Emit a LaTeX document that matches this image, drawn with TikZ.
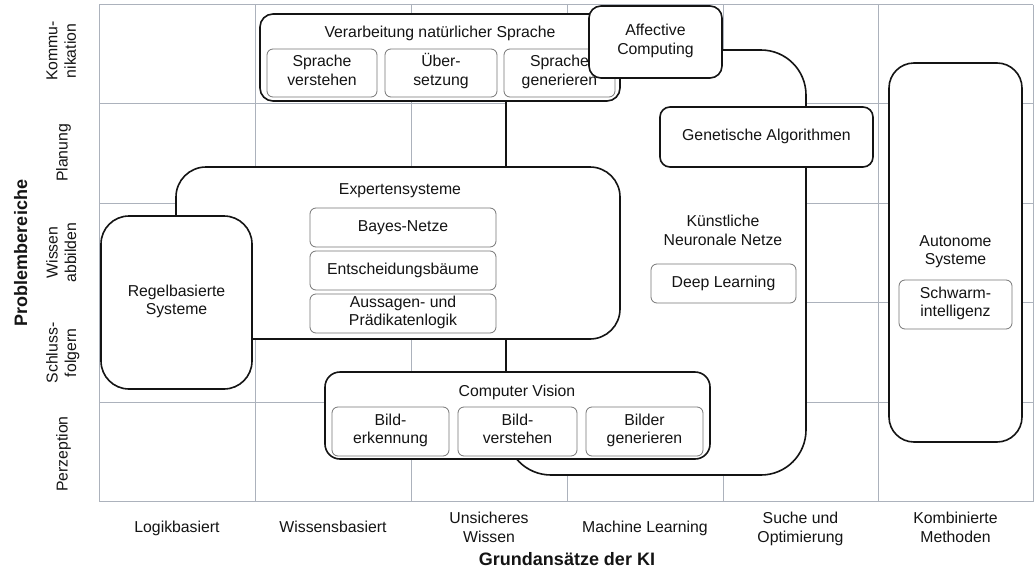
\documentclass[tikz,border=0pt]{standalone}
\usepackage{fontspec}
\setmainfont{Liberation Sans}
\definecolor{gridc}{RGB}{172,178,188}
\definecolor{subc}{RGB}{118,118,118}
\definecolor{ink}{RGB}{20,20,20}
\begin{document}
\begin{tikzpicture}[x=1pt,y=-1pt,
  every node/.style={font=\fontsize{15.8}{18.5}\selectfont, text=ink, inner sep=1pt, align=center,
    execute at begin node={\strut}, execute at end node={\strut}},
  gridline/.style={draw=gridc, line width=0.9pt},
  bigbox/.style={draw=ink, fill=white, line width=1.6pt, rectangle, rounded corners=#1},
  subbox/.style={draw=subc, fill=white, line width=0.8pt, rectangle, rounded corners=6pt},
  rowlab/.style={rotate=90},
  axislab/.style={font=\fontsize{18}{21}\selectfont\bfseries}
]
\useasboundingbox (0,0) rectangle (1034,573);
\fill[white] (0,0) rectangle (1034,573);

% grid
\foreach \gx in {99,255,411,567,723,878,1033}
  \draw[gridline] (\gx,4.5) -- (\gx,501.5);
\foreach \gy in {4.5,103.5,203,302.5,402,501.5}
  \draw[gridline] (99,\gy) -- (1033,\gy);

% Kuenstliche Neuronale Netze (large shape)
\node[bigbox=45pt, minimum width=300pt, minimum height=425pt] (knn) at (656,262.5) {};
\node (knnlab) at (723,233) {Künstliche\\Neuronale Netze};
\node[subbox, minimum width=145pt, minimum height=39pt] (deep) at (723.5,283.5) {Deep Learning};

% Genetische Algorithmen
\node[bigbox=10pt, minimum width=213pt, minimum height=60pt] (gen) at (766.5,137) {Genetische Algorithmen};

% Expertensysteme
\node[bigbox=30pt, minimum width=444pt, minimum height=172pt] (exp) at (398,253) {};
\node (explab) at (400,191) {Expertensysteme};
\node[subbox, minimum width=186pt, minimum height=39pt] (bayes) at (403,227.5) {Bayes-Netze};
\node[subbox, minimum width=186pt, minimum height=39pt] (ents) at (403,270.5) {Entscheidungsbäume};
\node[subbox, minimum width=186pt, minimum height=39pt] (aussa) at (403,313.5) {Aussagen- und\\Prädikatenlogik};

% Regelbasierte Systeme
\node[bigbox=28pt, minimum width=151pt, minimum height=173pt] (regel) at (176.5,302.5) {Regelbasierte\\Systeme};

% Verarbeitung natuerlicher Sprache
\node[bigbox=13pt, minimum width=360pt, minimum height=87pt] (nlp) at (440,57.5) {};
\node (nlplab) at (440,34) {Verarbeitung natürlicher Sprache};
\node[subbox, minimum width=110pt, minimum height=48pt] (sv) at (322,73) {Sprache\\verstehen};
\node[subbox, minimum width=112pt, minimum height=48pt] (ueb) at (441,73) {\smash{Ü}ber-\\setzung};
\node[subbox, minimum width=111pt, minimum height=48pt] (sg) at (559.5,73) {Sprache\\generieren};

% Affective Computing
\node[bigbox=12pt, minimum width=133pt, minimum height=72pt] (aff) at (655.5,42) {Affective\\Computing};

% Computer Vision
\node[bigbox=15pt, minimum width=385pt, minimum height=87pt] (cv) at (517.5,415.5) {};
\node (cvlab) at (517,393) {Computer Vision};
\node[subbox, minimum width=117pt, minimum height=49pt] (be) at (390.5,431.5) {Bild-\\erkennung};
\node[subbox, minimum width=119pt, minimum height=49pt] (bv) at (517.5,431.5) {Bild-\\verstehen};
\node[subbox, minimum width=117pt, minimum height=49pt] (bg) at (644.5,431.5) {Bilder\\generieren};

% Autonome Systeme
\node[bigbox=25pt, minimum width=133pt, minimum height=379pt] (auto) at (955.5,252.5) {};
\node (autolab) at (955.5,253) {Autonome\\Systeme};
\node[subbox, minimum width=113pt, minimum height=49pt] (schw) at (955.5,304.5) {Schwarm-\\intelligenz};

% row labels
\node[rowlab] (r1) at (64,51) {Kommu-\\nikation};
\node[rowlab] (r2) at (64,153) {Planung};
\node[rowlab] (r3) at (64,252.5) {Wissen\\abbilden};
\node[rowlab] (r4) at (64,353) {Schluss-\\folgern};
\node[rowlab] (r5) at (64,454) {Perzeption};
\node[rowlab, axislab] (ylab) at (23,253) {Problembereiche};

% column labels
\node (c1) at (177,529) {Logikbasiert};
\node (c2) at (333,529) {Wissensbasiert};
\node (c3) at (489,530) {Unsicheres\\Wissen};
\node (c4) at (645,529) {Machine Learning};
\node (c5) at (800.5,530) {Suche und\\Optimierung};
\node (c6) at (955.5,530) {Kombinierte\\Methoden};
\node[axislab] (xlab) at (567,561) {Grundansätze der KI};
\end{tikzpicture}
\end{document}
